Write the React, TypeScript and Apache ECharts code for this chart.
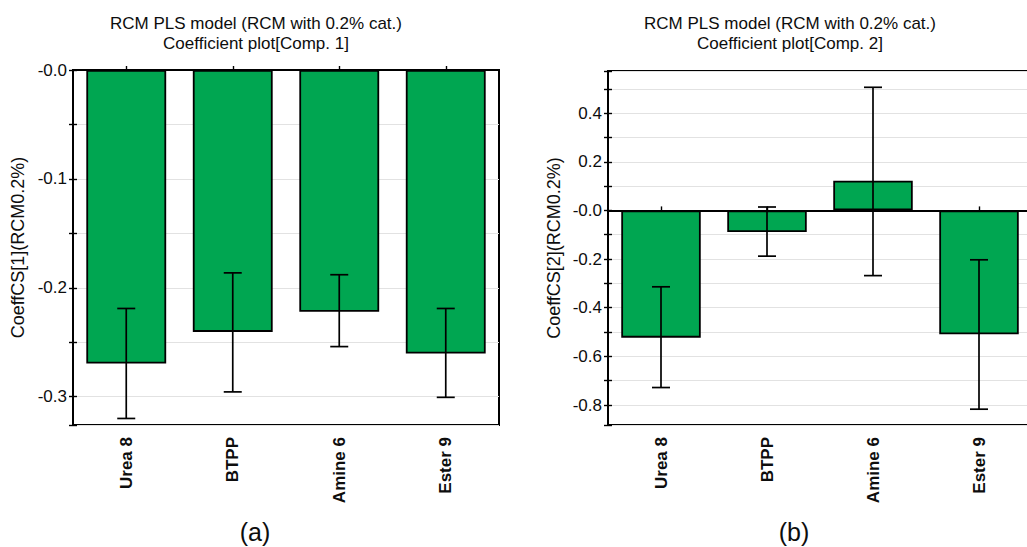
import React, { useEffect, useRef } from "react";
import * as echarts from "echarts";

const categories = ["Urea 8", "BTPP", "Amine 6", "Ester 9"];

const comp1Values = [-0.2696, -0.2405, -0.2221, -0.2604];
const comp1Low = [-0.32, -0.2956, -0.254, -0.3006];
const comp1High = [-0.219, -0.1863, -0.188, -0.219];

const comp2Values = [-0.523, -0.0886, 0.122, -0.509];
const comp2Low = [-0.728, -0.188, -0.268, -0.817];
const comp2High = [-0.314, 0.014, 0.506, -0.203];

const titleA = "RCM PLS model (RCM with 0.2% cat.)\nCoefficient plot[Comp. 1]";
const titleB = "RCM PLS model (RCM with 0.2% cat.)\nCoefficient plot[Comp. 2]";
const yNameA = "CoeffCS[1](RCM0.2%)";
const yNameB = "CoeffCS[2](RCM0.2%)";
const panelLabels = ["(a)", "(b)"];

const FONT = "'Liberation Sans', Arial, sans-serif";
const GREEN = "#00a651";
const INK = "#0d0d0d";

function isMultiple(v: number, step: number) {
  const r = v / step;
  return Math.abs(r - Math.round(r)) < 1e-6;
}

function fmt(step: number) {
  return (v: number) => {
    if (!isMultiple(v, step)) return "";
    if (Math.abs(v) < 1e-9) return "-0.0";
    return v.toFixed(1);
  };
}

function errRender(params: any, api: any) {
  const x = api.value(0);
  const lo = api.coord([x, api.value(1)]);
  const hi = api.coord([x, api.value(2)]);
  const half = 9;
  const style = { stroke: "#000", lineWidth: 1.7 };
  return {
    type: "group",
    children: [
      { type: "line", shape: { x1: lo[0], y1: lo[1], x2: hi[0], y2: hi[1] }, style },
      { type: "line", shape: { x1: lo[0] - half, y1: lo[1], x2: lo[0] + half, y2: lo[1] }, style },
      { type: "line", shape: { x1: hi[0] - half, y1: hi[1], x2: hi[0] + half, y2: hi[1] }, style },
    ],
  };
}

function makeY(gridIndex: number, min: number, max: number, split: number, step: number, name: string, gap: number, overlay: boolean) {
  return {
    type: "value",
    gridIndex,
    min,
    max,
    splitNumber: split,
    position: "left",
    name: overlay ? "" : name,
    nameLocation: "middle",
    nameRotate: 90,
    nameGap: gap,
    nameTextStyle: { fontFamily: FONT, fontSize: 18, color: INK },
    axisLine: { show: !overlay, onZero: false, lineStyle: { color: "#000", width: 2 } },
    axisTick: { show: true, inside: overlay, length: 4, lineStyle: { color: "#000", width: 1.4 } },
    axisLabel: {
      show: !overlay,
      formatter: fmt(step),
      margin: 6,
      fontFamily: FONT,
      fontSize: 17,
      color: INK,
      showMinLabel: true,
      showMaxLabel: true,
    },
    splitLine: { show: !overlay, lineStyle: { color: "#e2e2e2", width: 1 } },
  };
}

function makeX(gridIndex: number, labels: boolean) {
  return {
    type: "category",
    gridIndex,
    data: categories,
    position: "bottom",
    axisLine: labels
      ? { show: false, onZero: false }
      : { show: true, onZero: true, lineStyle: { color: "#000", width: 1.8 } },
    axisTick: labels ? { show: false } : { show: true, inside: true, length: 4, alignWithLabel: true, lineStyle: { color: "#000", width: 1.4 } },
    axisLabel: labels
      ? { show: true, rotate: 90, margin: 12, fontFamily: FONT, fontSize: 17, fontWeight: "bold", color: INK }
      : { show: false },
    splitLine: { show: false },
  };
}

export default function App() {
  const ref = useRef<HTMLDivElement>(null);
  useEffect(() => {
    if (!ref.current) return;
    const chart = echarts.init(ref.current, undefined, { renderer: "svg" });
    const gridStyle = {
      show: true,
      borderColor: "#000",
      borderWidth: 2,
      backgroundColor: "transparent",
      containLabel: false,
      outerBoundsMode: "none",
    };
    chart.setOption({
      animation: false,
      backgroundColor: "#fff",
      grid: [
        { ...gridStyle, left: 73, top: 70, width: 426, height: 355 },
        { ...gridStyle, left: 608, top: 71, width: 424, height: 354 },
      ],
      xAxis: [makeX(0, true), makeX(0, false), makeX(1, true), makeX(1, false)],
      yAxis: [
        makeY(0, -0.326, 0, 6, 0.1, yNameA, 46, false),
        makeY(0, -0.326, 0, 6, 0.1, yNameA, 46, true),
        makeY(1, -0.882, 0.573, 14, 0.2, yNameB, 45, false),
        makeY(1, -0.882, 0.573, 14, 0.2, yNameB, 45, true),
      ],
      series: [
        {
          type: "bar",
          xAxisIndex: 0,
          yAxisIndex: 0,
          data: comp1Values,
          barWidth: "75%",
          itemStyle: { color: GREEN, borderColor: "#000", borderWidth: 1.8 },
        },
        {
          type: "custom",
          xAxisIndex: 0,
          yAxisIndex: 0,
          renderItem: errRender,
          encode: { x: 0, y: [1, 2] },
          data: categories.map((_, i) => [i, comp1Low[i], comp1High[i]]),
          z: 5,
        },
        {
          type: "bar",
          xAxisIndex: 2,
          yAxisIndex: 2,
          data: comp2Values,
          barWidth: "75%",
          itemStyle: { color: GREEN, borderColor: "#000", borderWidth: 1.8 },
        },
        {
          type: "custom",
          xAxisIndex: 2,
          yAxisIndex: 2,
          renderItem: errRender,
          encode: { x: 0, y: [1, 2] },
          data: categories.map((_, i) => [i, comp2Low[i], comp2High[i]]),
          z: 5,
        },
      ],
      graphic: [
        {
          type: "text",
          x: 256,
          y: 13,
          style: { text: titleA, textAlign: "center", textVerticalAlign: "top", font: `17px ${FONT}`, lineHeight: 20, fill: INK },
        },
        {
          type: "text",
          x: 790,
          y: 13,
          style: { text: titleB, textAlign: "center", textVerticalAlign: "top", font: `17px ${FONT}`, lineHeight: 20, fill: INK },
        },
        {
          type: "text",
          x: 255,
          y: 532,
          style: { text: panelLabels[0], textAlign: "center", textVerticalAlign: "middle", font: `25px ${FONT}`, fill: INK },
        },
        {
          type: "text",
          x: 794,
          y: 532,
          style: { text: panelLabels[1], textAlign: "center", textVerticalAlign: "middle", font: `25px ${FONT}`, fill: INK },
        },
      ],
    });
    return () => chart.dispose();
  }, []);
  return (
    <div
      ref={ref}
      style={{ position: "fixed", left: 0, top: 0, width: 1027, height: 547 }}
    />
  );
}
